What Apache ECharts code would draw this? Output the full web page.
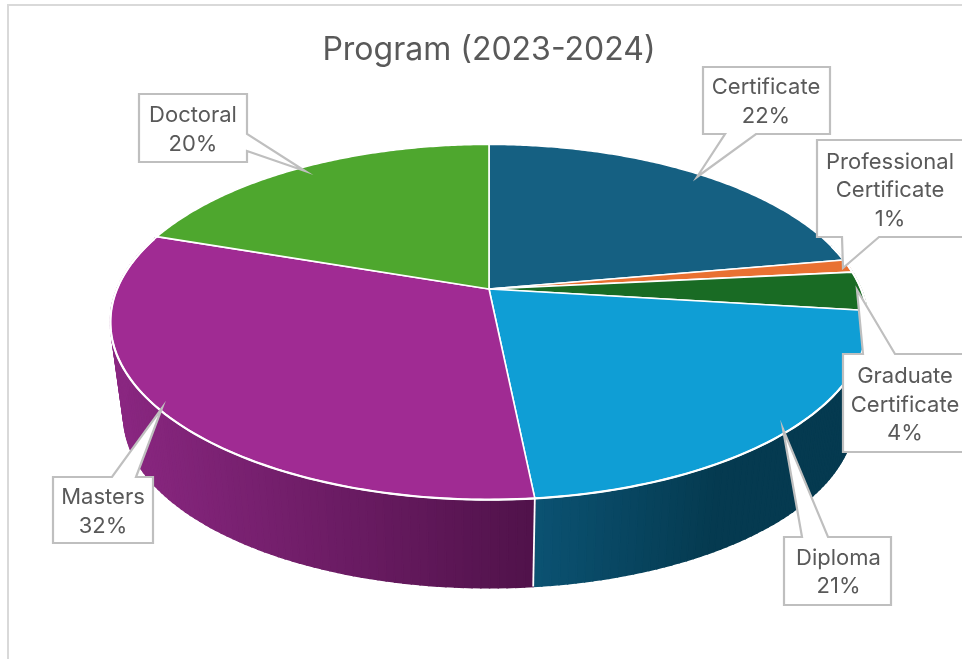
<!DOCTYPE html>
<html><head><meta charset="utf-8">
<style>html,body{margin:0;padding:0;background:#fff}#c{width:962px;height:659px}</style>
<script src="https://cdn.jsdelivr.net/npm/echarts@6/dist/echarts.min.js"></script>
</head><body><div id="c"></div>
<script>
var categories = ['Certificate','Professional Certificate','Graduate Certificate','Diploma','Masters','Doctoral'];
var values = [22.2, 1.2, 3.55, 21.45, 31.85, 19.75];

var topColors = ['#156082','#E97132','#196B24','#0F9ED5','#A02B93','#4EA72E'];
// wall shading: colour at xFrom -> colour at xTo (left to right in the picture)
var wallShade = [
  {from:'#0d3d52',to:'#0d3d52',xFrom:0,xTo:962},
  {from:'#8f4520',to:'#8f4520',xFrom:0,xTo:962},
  {from:'#0f4116',to:'#0f4116',xFrom:0,xTo:962},
  {from:'#0b5272',to:'#053a50',xFrom:534,xTo:710},
  {from:'#8a2781',to:'#50124a',xFrom:125,xTo:534},
  {from:'#2f651c',to:'#2f651c',xFrom:0,xTo:962}
];
var geom = {cx:489, cy:289, b:372, a:171.5, k:0.186, s:0.965, d:95.5};
var total = values.reduce(function(p,c){return p+c;},0);

// callout layout: box [x0,y0,x1,y1], pointer polygon, text centre
var callouts = [
 {box:[703,67,830,134], side:'bottom', base:[725,756], tip:[697,177], tx:766, ty:102},
 {box:[817,140,975,237], side:'bottom', base:[842,879], tip:[843,268], tx:890, ty:190.5},
 {box:[843,354,975,452], side:'top', base:[863,895], tip:[857,290], tx:905, ty:405},
 {box:[784,537,891,605], side:'top', base:[802,828], tip:[783,429], tx:838.5, ty:572.5},
 {box:[53,477,153,543], side:'top', base:[112,136], tip:[162,408], tx:103, ty:512},
 {box:[139,94,247,162], side:'right', base:[134,151], tip:[305,171], tx:193, ty:130}
];

function proj(theta){
  var u=Math.sin(theta), v=-Math.cos(theta), den=1-geom.k*v;
  return [geom.b*u/den, geom.a*v/den];
}
function topPt(theta){var p=proj(theta);return [geom.cx+p[0],geom.cy+p[1]];}
function botPt(theta){var p=proj(theta);return [geom.cx+geom.s*p[0],geom.cy+geom.s*p[1]+geom.d];}
function mix(c1,c2,t){
  var f=function(c,i){return parseInt(c.substr(1+2*i,2),16);};
  var o='rgb(';
  for(var i=0;i<3;i++){o+=Math.round(f(c1,i)+(f(c2,i)-f(c1,i))*t)+(i<2?',':')');}
  return o;
}
function calloutPts(c){
  var b=c.box;
  if(c.side==='bottom') return [[b[0],b[1]],[b[2],b[1]],[b[2],b[3]],[c.base[1],b[3]],c.tip,[c.base[0],b[3]],[b[0],b[3]]];
  if(c.side==='top') return [[b[0],b[1]],[c.base[0],b[1]],c.tip,[c.base[1],b[1]],[b[2],b[1]],[b[2],b[3]],[b[0],b[3]]];
  return [[b[0],b[1]],[b[2],b[1]],[b[2],c.base[0]],c.tip,[b[2],c.base[1]],[b[2],b[3]],[b[0],b[3]]];
}
function renderItem(params, api){
  var i=params.dataIndex, val=api.value(0), before=0;
  for(var j=0;j<i;j++) before+=values[j];
  var t0=before/total*2*Math.PI, t1=(before+val)/total*2*Math.PI;
  var kids=[];
  // side wall: vertical strips, lower part of the rim only
  var lo=Math.max(t0,75*Math.PI/180), hi=Math.min(t1,288*Math.PI/180);
  if(hi>lo){
    var n=Math.max(2,Math.ceil((hi-lo)/0.02));
    var sh=wallShade[i], rim=[];
    for(var q=0;q<n;q++){
      var a=lo+(hi-lo)*q/n, e=lo+(hi-lo)*(q+1)/n;
      var xm=botPt((a+e)/2)[0];
      var tt=Math.max(0,Math.min(1,(xm-sh.xFrom)/(sh.xTo-sh.xFrom)));
      var col=mix(sh.from,sh.to,tt);
      kids.push({type:'polygon',z2:1,silent:true,
        shape:{points:[topPt(a),topPt(e),botPt(e),botPt(a)]},
        style:{fill:col,stroke:col,lineWidth:1.5}});
    }
    for(var r=0;r<=n;r++) rim.push(topPt(lo+(hi-lo)*r/n));
    kids.push({type:'polyline',z2:3,silent:true,shape:{points:rim},
      style:{fill:null,stroke:'#fff',lineWidth:2.2}});
  }
  // top face
  var pts=[[geom.cx,geom.cy]], m=Math.max(4,Math.ceil((t1-t0)/0.01));
  for(var w=0;w<=m;w++) pts.push(topPt(t0+(t1-t0)*w/m));
  kids.push({type:'polygon',z2:2,shape:{points:pts},
    style:{fill:topColors[i],stroke:'#fff',lineWidth:1.6,lineJoin:'round'}});
  // seam at the front between Diploma and Masters walls
  if(i===3){
    kids.push({type:'line',z2:3,silent:true,
      shape:{x1:topPt(t1)[0],y1:topPt(t1)[1],x2:botPt(t1)[0],y2:botPt(t1)[1]},
      style:{stroke:'#fff',lineWidth:1.8}});
  }
  // callout
  var c=callouts[i];
  kids.push({type:'polygon',z2:10,silent:true,shape:{points:calloutPts(c)},
    style:{fill:'#fff',stroke:'#bfbfbf',lineWidth:2.2,lineJoin:'miter'}});
  kids.push({type:'text',z2:11,silent:true,x:c.tx,y:c.ty,
    style:{text:categories[i].replace(' ','\n')+'\n'+Math.round(val/total*100)+'%',
      fill:'#595959',font:'22px Inter',align:'center',verticalAlign:'middle',lineHeight:28.5}});
  return {type:'group',children:kids};
}
var chart=echarts.init(document.getElementById('c'),null,{renderer:'canvas'});
chart.setOption({
  animation:false,
  backgroundColor:'#ffffff',
  title:{text:'Program (2023-2024)',left:484,top:29,textAlign:'center',
    textStyle:{color:'#595959',fontFamily:'Inter',fontSize:32,fontWeight:'normal'}},
  graphic:[
    {type:'polyline',silent:true,shape:{points:[[8,659],[8,5],[962,5]]},style:{fill:null,stroke:'#d9d9d9',lineWidth:2}}
  ],
  series:[{type:'custom',coordinateSystem:'none',renderItem:renderItem,
    data:values.map(function(v,i){return {name:categories[i],value:[v]};})}]
});
</script></body></html>
